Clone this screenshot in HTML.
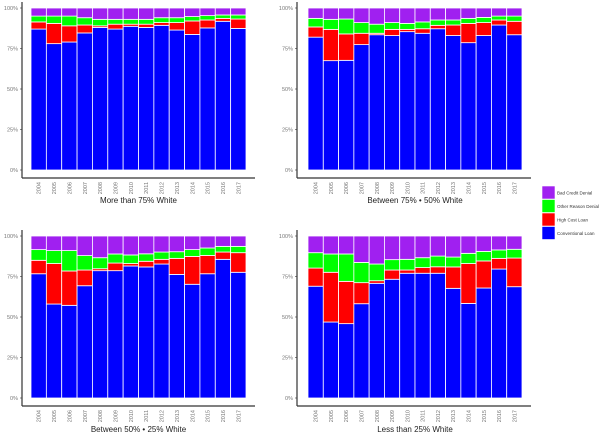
<!DOCTYPE html>
<html><head><meta charset="utf-8"><style>
body{margin:0;background:#fff}
svg{display:block;font-family:"Liberation Sans",sans-serif}
</style></head><body>
<svg id="c" width="600" height="435"></svg>
<script>
const years=["2004","2005","2006","2007","2008","2009","2010","2011","2012","2013","2014","2015","2016","2017"];
const ticks=[0,25,50,75,100];
const titles=["More than 75% White","Between 75% \u2022 50% White","Between 50% \u2022 25% White","Less than 25% White"];
// cumulative tops (%) per panel: conventional, +high cost, +other denial; bad credit fills to 100
const conv1=[87,78,79,84.6,88,87,88.7,88,89.3,86.4,83.7,87.7,91.8,87.4];
const high1=[91.4,90.5,89,89.5,89,90,90,90,91,91,92,92.6,93.6,93.2];
const oth1=[95,95,95,94,93,93,93,93,94,94,94.7,95.3,95.7,95.7];
const conv2=[82,67.5,67.7,77.4,83.5,83,85.4,84.4,87.2,83,78.6,83,89.5,83.5];
const high2=[88.3,86.8,84,84.4,84.4,86.8,86.8,87.2,89.3,89.5,90.5,91,92.6,91.8];
const oth2=[93.6,93,93.2,91,90,91,90.5,91.4,92.6,92.6,93.6,94.2,95,95];
const conv3=[76.7,58,57.2,69.3,78.6,78.6,81.5,80.9,82.7,76.3,70.2,76.7,85.6,77.6];
const high3=[85,83,78.4,79,79.8,83.3,83,84.4,85.6,86.2,87.4,88,90.1,89.7];
const oth3=[91.6,91,91,87.9,86.6,88.9,88.3,89,90.1,90.3,91.6,92.6,93.6,93.6];
const conv4=[69,46.9,45.9,58.2,70.8,73.3,77,77,77,67.7,58.4,67.9,79.6,68.7];
const high4=[80.2,77.6,72,71.2,72.4,79,79,80.5,81,80.9,83,84.6,86.2,86.4];
const oth4=[89.7,88.9,88.9,83.7,82.7,85.4,85.6,86.6,87.6,87,89.3,90.5,91.4,91.8];
const series=[[conv1,high1,oth1],[conv2,high2,oth2],[conv3,high3,oth3],[conv4,high4,oth4]];
const legendLabels=["Bad Credit Denial","Other Reason Denial","High Cost Loan","Conventional Loan"];
const colors=["#0000ff","#ff0000","#00ff00","#a020f0"];
const NS="http://www.w3.org/2000/svg";
const svg=document.getElementById("c");
function mk(t,a,p){const e=document.createElementNS(NS,t);for(const k in a)e.setAttribute(k,a[k]);(p||svg).appendChild(e);return e;}
const panels=[{x0:31,x1:246,ax:22,y0:170,y1:8,ab:178,ty:203},{x0:308,x1:522,ax:297,y0:170,y1:8,ab:178,ty:203},
{x0:31,x1:246,ax:22,y0:398,y1:236,ab:406,ty:432},{x0:308,x1:522,ax:297,y0:398,y1:236,ab:406,ty:432}];
const segNames=["conventional-loan","high-cost-loan","other-reason-denial","bad-credit-denial"];
panels.forEach((P,pi)=>{
  const g=mk("g",{});
  
  
  const bw=(P.x1-P.x0)/years.length;
  const xs=i=>P.x0+i*bw;
  const ys=v=>P.y0-(P.y0-P.y1)*v/100;
  const s=series[pi];
  years.forEach((yr,i)=>{
    const bounds=[0,s[0][i],s[1][i],s[2][i],100];
    for(let k=0;k<4;k++){
      const r=mk("rect",{x:xs(i),y:ys(bounds[k+1]),width:bw,height:ys(bounds[k])-ys(bounds[k+1]),fill:colors[k],stroke:"#fff","stroke-width":0.8},g);
      
      
    }
    const t=mk("text",{x:0,y:0,transform:`translate(${xs(i)+bw/2+2},${P.ab+4}) rotate(-90)`,"text-anchor":"end","font-size":5.5,fill:"#777"},g);
    t.textContent=yr;
    
    
  });
  const ya=mk("line",{x1:P.ax,y1:P.y1-6,x2:P.ax,y2:P.ab,stroke:"#333","stroke-width":1.2},g);
  
  
  const xa=mk("line",{x1:P.ax,y1:P.ab,x2:P.x1+9,y2:P.ab,stroke:"#333","stroke-width":1.2},g);
  
  
  ticks.forEach(tv=>{
    const t=mk("text",{x:P.ax-4,y:ys(tv)+2,"text-anchor":"end","font-size":5.5,fill:"#777"},g);
    t.textContent=tv+"%";
    
    
    mk("line",{x1:P.ax-2,x2:P.ax,y1:ys(tv),y2:ys(tv),stroke:"#333","stroke-width":0.6},g);
  });
  const tt=mk("text",{x:(P.x0+P.x1)/2,y:P.ty,"text-anchor":"middle","font-size":8,fill:"#222"},g);
  tt.textContent=titles[pi];
  
  
});
const lg=mk("g",{});


const lc=["#a020f0","#00ff00","#ff0000","#0000ff"];
legendLabels.forEach((l,i)=>{
  const y=186+i*13.5;
  const r=mk("rect",{x:542,y:y,width:13,height:13,fill:lc[i],stroke:"#fff","stroke-width":0.6},lg);
  
  
  const t=mk("text",{x:557,y:y+8.5,"font-size":4.5,fill:"#333"},lg);
  t.textContent=l;
  
  
});
</script>
</body></html>
